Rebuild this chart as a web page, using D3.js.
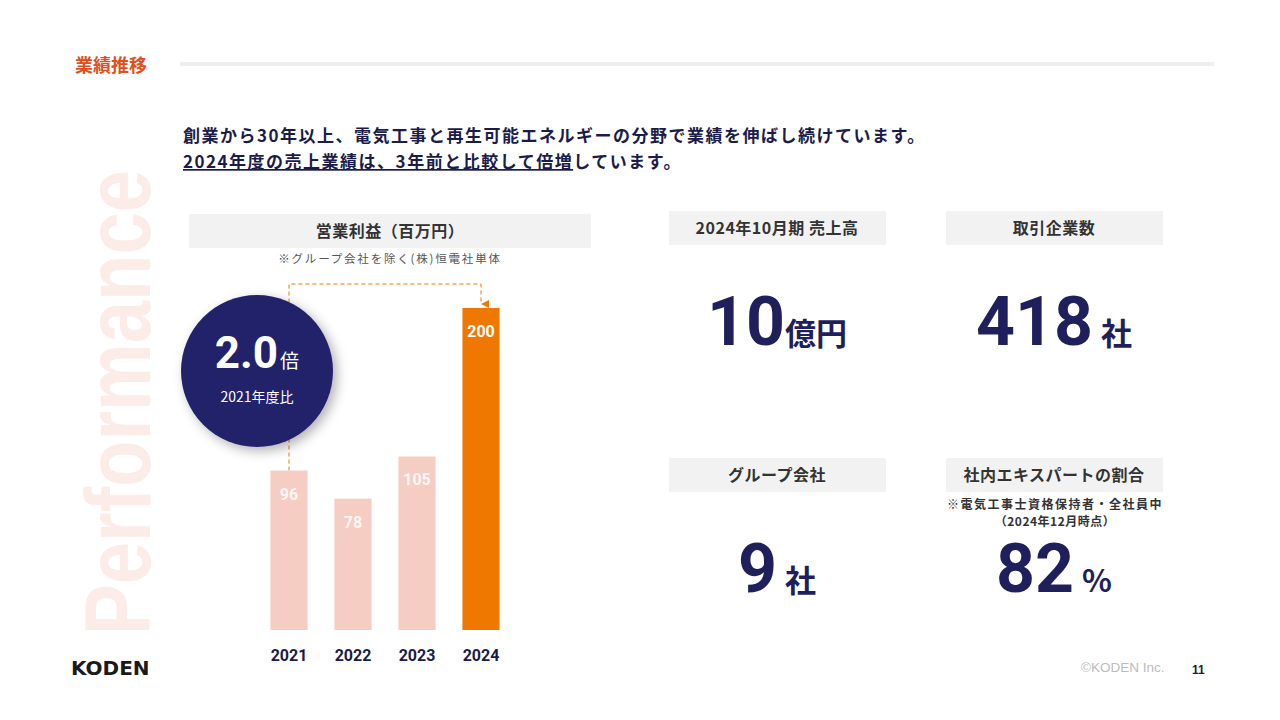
<!DOCTYPE html>
<html>
<head>
<meta charset="utf-8">
<script src="https://cdn.jsdelivr.net/npm/d3@7"></script>
<style>
  body { margin: 0; background: #fff; }
  svg { display: block; font-family: "Noto Sans CJK JP", "Noto Sans", sans-serif; }
</style>
</head>
<body>
<svg id="slide" width="1280" height="720"></svg>
<script>
// data
let years = ['2021', '2022', '2023', '2024'];
let profits = [96, 78, 105, 200];
let statTitles = ['2024年10月期 売上高', '取引企業数', 'グループ会社', '社内エキスパートの割合'];
let statValues = ['10', '418', '9', '82'];
let statUnits = ['億円', '社', '社', '%'];

let navy = '#1f1f5c', orange = '#ee7800', pink = '#f5cdc2';

let svg = d3.select('#slide');

// shadow for the circle
let defs = svg.append('defs');
let f = defs.append('filter').attr('id', 'shadow').attr('x', '-30%').attr('y', '-30%').attr('width', '160%').attr('height', '160%');
f.append('feDropShadow').attr('dx', 4).attr('dy', 4).attr('stdDeviation', 6).attr('flood-color', '#000').attr('flood-opacity', 0.3);
defs.append('marker').attr('id', 'arrow')
    .attr('viewBox', '0 0 10 10').attr('refX', 5).attr('refY', 10)
    .attr('markerWidth', 8).attr('markerHeight', 8).attr('orient', 'auto-start-reverse')
    .append('path').attr('d', 'M0,0 L10,0 L5,10 Z').attr('fill', orange);

// header
svg.append('text').attr('x', 75).attr('y', 72)
    .text('業績推移')
    .style('font-size', '18px').style('font-weight', 700).style('fill', '#e0501e');
svg.append('rect').attr('x', 180).attr('y', 62).attr('width', 1034).attr('height', 4).attr('fill', '#efefef');

// big watermark
svg.append('text')
    .attr('transform', 'translate(150,635) rotate(-90)')
    .attr('textLength', 465).attr('lengthAdjust', 'spacingAndGlyphs')
    .text('Performance')
    .style('font-family', '"Liberation Sans", Arial, sans-serif')
    .style('font-size', '92px').style('font-weight', 700).style('fill', '#fbece7');

// intro lines
svg.append('text').attr('x', 183).attr('y', 142)
    .text('創業から30年以上、電気工事と再生可能エネルギーの分野で業績を伸ばし続けています。')
    .style('font-size', '17px').style('font-weight', 700).style('letter-spacing', '1.5px').style('fill', '#1c1c4a');
let line2 = svg.append('text').attr('x', 183).attr('y', 168)
    .style('font-size', '17px').style('font-weight', 700).style('letter-spacing', '1.5px').style('fill', '#1c1c4a');
line2.append('tspan').text('2024年度の売上業績は、3年前と比較して倍増').style('text-decoration', 'underline');
line2.append('tspan').text('しています。');

// chart title
svg.append('rect').attr('x', 189).attr('y', 214).attr('width', 402).attr('height', 34).attr('fill', '#f2f2f2');
svg.append('text').attr('x', 390).attr('y', 237).attr('text-anchor', 'middle')
    .text('営業利益（百万円）')
    .style('font-size', '16px').style('font-weight', 700).style('letter-spacing', '0.5px').style('fill', '#333');
svg.append('text').attr('x', 390).attr('y', 263).attr('text-anchor', 'middle')
    .text('※グループ会社を除く(株)恒電社単体')
    .style('font-size', '11.5px').style('letter-spacing', '1.8px').style('fill', '#555');

// bar chart
let x = d3.scaleBand().domain(years).range([257, 513]).paddingInner(0.42).paddingOuter(0.21);
let y = d3.scaleLinear().domain([-6, 200]).range([630, 308]);

let rows = years.map((yr, i) => ({ year: yr, value: profits[i] }));

// dashed connector from first to last bar
let first = rows[0], last = rows[rows.length - 1];
let cx0 = x(first.year) + x.bandwidth() / 2, cx1 = x(last.year) + x.bandwidth() / 2;
svg.append('path')
    .attr('d', 'M' + cx0 + ',' + y(first.value) + ' L' + cx0 + ',284 L' + cx1 + ',284 L' + cx1 + ',' + (y(last.value) - 4))
    .attr('fill', 'none').attr('stroke', orange).attr('stroke-width', 1).attr('stroke-dasharray', '4,3')
    .attr('marker-end', 'url(#arrow)');

svg.selectAll('.bar')
    .data(rows)
    .enter()
    .append('rect')
    .attr('class', 'bar')
    .attr('x', d => x(d.year))
    .attr('y', d => y(d.value))
    .attr('width', x.bandwidth())
    .attr('height', d => y(-6) - y(d.value))
    .attr('fill', (d, i) => i === rows.length - 1 ? orange : pink);

svg.selectAll('.val')
    .data(rows)
    .enter()
    .append('text')
    .attr('x', d => x(d.year) + x.bandwidth() / 2)
    .attr('y', d => y(d.value) + 29)
    .attr('text-anchor', 'middle')
    .text(d => d.value)
    .style('font-family', 'Roboto, "Noto Sans", sans-serif')
    .style('font-size', '16px').style('font-weight', 700)
    .style('fill', (d, i) => i === rows.length - 1 ? '#fff' : 'rgba(255,255,255,0.85)');

let xAxis = svg.append('g').attr('transform', 'translate(0,630)')
    .call(d3.axisBottom(x).tickSize(0).tickPadding(20));
xAxis.select('.domain').remove();
xAxis.selectAll('text')
    .style('font-family', 'Roboto, "Noto Sans", sans-serif')
    .style('font-size', '16px').style('font-weight', 700).style('fill', '#1c1c4a');

// growth circle
let ratio = (Math.floor(last.value / first.value * 10) / 10).toFixed(1);
svg.append('circle').attr('cx', 257).attr('cy', 371).attr('r', 76)
    .attr('fill', '#23226b').attr('filter', 'url(#shadow)');
let big = svg.append('text').attr('x', 257).attr('y', 368).attr('text-anchor', 'middle').style('fill', '#fff');
big.append('tspan').text(ratio)
    .style('font-family', 'Roboto, "Noto Sans", sans-serif').style('font-size', '44px').style('font-weight', 700);
big.append('tspan').text('倍').attr('dx', 2).style('font-size', '19px');
svg.append('text').attr('x', 257).attr('y', 402).attr('text-anchor', 'middle')
    .text(first.year + '年度比')
    .style('font-size', '14px').style('fill', '#fff');

// stat panels
let panels = [
    { x: 669, y: 211, base: 345 },
    { x: 946, y: 211, base: 345 },
    { x: 669, y: 458, base: 592 },
    { x: 946, y: 458, base: 592 }
];
panels.forEach((p, i) => {
    let cx = p.x + 108;
    svg.append('rect').attr('x', p.x).attr('y', p.y).attr('width', 217).attr('height', 34).attr('fill', '#f2f2f2');
    svg.append('text').attr('x', cx).attr('y', p.y + 23).attr('text-anchor', 'middle')
        .text(statTitles[i])
        .style('font-size', '16px').style('font-weight', 700).style('letter-spacing', '0.5px').style('fill', '#333');
    let t = svg.append('text').attr('x', cx).attr('y', p.base).attr('text-anchor', 'middle').style('fill', navy);
    t.append('tspan').text(statValues[i])
        .style('font-family', 'Roboto, "Noto Sans", sans-serif')
        .style('font-size', '68px').style('font-weight', 700);
    t.append('tspan').text(statUnits[i]).attr('dx', i === 0 ? 0 : 8)
        .style('font-size', '31px').style('font-weight', 700);
});

// two-line note under the last panel title
let note = svg.append('text').attr('text-anchor', 'middle')
    .style('font-size', '12px').style('font-weight', 700).style('fill', '#333');
note.append('tspan').attr('x', 1055).attr('y', 509)
    .text('※電気工事士資格保持者・全社員中').style('letter-spacing', '1.5px');
note.append('tspan').attr('x', 1055).attr('dy', 17)
    .text('（2024年12月時点）').style('letter-spacing', '0.5px');

// footer
svg.append('text').attr('x', 71).attr('y', 675)
    .text('KODEN')
    .style('font-family', '"DejaVu Sans", sans-serif')
    .style('font-size', '20px').style('font-weight', 700).style('fill', '#1a1a1a');
svg.append('text').attr('x', 1081).attr('y', 672)
    .text('©KODEN Inc.')
    .style('font-family', '"Liberation Sans", Arial, sans-serif')
    .style('font-size', '13.5px').style('fill', '#bbb');
svg.append('text').attr('x', 1192).attr('y', 674)
    .text('11')
    .style('font-family', '"Liberation Sans", Arial, sans-serif')
    .style('font-size', '12px').style('font-weight', 700).style('fill', '#222');
</script>
</body>
</html>
